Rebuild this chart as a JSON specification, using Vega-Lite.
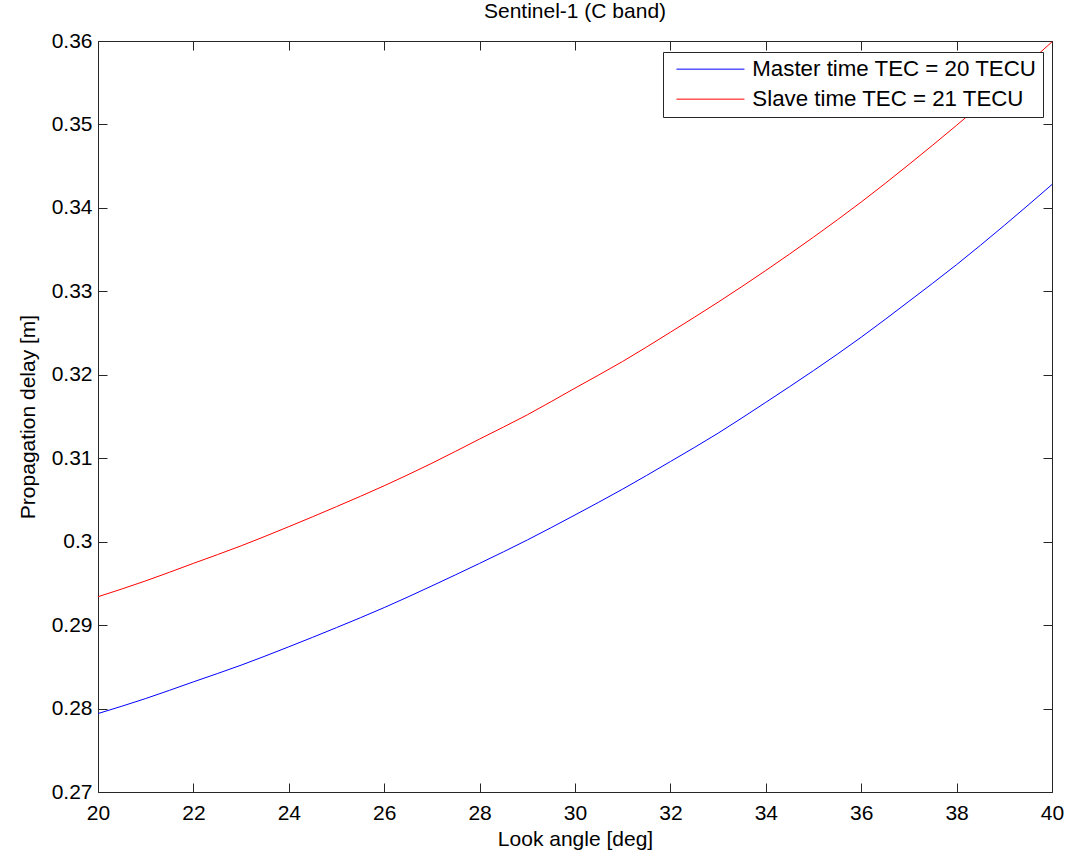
{
  "$schema": "https://vega.github.io/schema/vega-lite/v6.json",
  "width": 954,
  "height": 751,
  "autosize": {"type": "none"},
  "padding": {"left": 98, "top": 41, "right": 37, "bottom": 62},
  "background": "white",
  "title": {"text": "Sentinel-1 (C band)", "fontSize": 21, "font": "Liberation Sans", "fontWeight": "normal", "color": "black", "offset": 8.5, "anchor": "middle", "frame": "group"},
  "config": {"view": {"stroke": null}, "font": "Liberation Sans"},
  "datasets": {
    "curves": [
      {"angle": 20, "delay": 0.2794, "series": "Master time TEC = 20 TECU"},
      {"angle": 21, "delay": 0.2812, "series": "Master time TEC = 20 TECU"},
      {"angle": 22, "delay": 0.2832, "series": "Master time TEC = 20 TECU"},
      {"angle": 23, "delay": 0.2852, "series": "Master time TEC = 20 TECU"},
      {"angle": 24, "delay": 0.2874, "series": "Master time TEC = 20 TECU"},
      {"angle": 25, "delay": 0.2897, "series": "Master time TEC = 20 TECU"},
      {"angle": 26, "delay": 0.2921, "series": "Master time TEC = 20 TECU"},
      {"angle": 27, "delay": 0.2947, "series": "Master time TEC = 20 TECU"},
      {"angle": 28, "delay": 0.2974, "series": "Master time TEC = 20 TECU"},
      {"angle": 29, "delay": 0.3002, "series": "Master time TEC = 20 TECU"},
      {"angle": 30, "delay": 0.3032, "series": "Master time TEC = 20 TECU"},
      {"angle": 31, "delay": 0.3063, "series": "Master time TEC = 20 TECU"},
      {"angle": 32, "delay": 0.3096, "series": "Master time TEC = 20 TECU"},
      {"angle": 33, "delay": 0.3130, "series": "Master time TEC = 20 TECU"},
      {"angle": 34, "delay": 0.3167, "series": "Master time TEC = 20 TECU"},
      {"angle": 35, "delay": 0.3205, "series": "Master time TEC = 20 TECU"},
      {"angle": 36, "delay": 0.3245, "series": "Master time TEC = 20 TECU"},
      {"angle": 37, "delay": 0.3288, "series": "Master time TEC = 20 TECU"},
      {"angle": 38, "delay": 0.3332, "series": "Master time TEC = 20 TECU"},
      {"angle": 39, "delay": 0.3379, "series": "Master time TEC = 20 TECU"},
      {"angle": 40, "delay": 0.3428, "series": "Master time TEC = 20 TECU"},
      {"angle": 20, "delay": 0.2934, "series": "Slave time TEC = 21 TECU"},
      {"angle": 21, "delay": 0.2953, "series": "Slave time TEC = 21 TECU"},
      {"angle": 22, "delay": 0.2974, "series": "Slave time TEC = 21 TECU"},
      {"angle": 23, "delay": 0.2995, "series": "Slave time TEC = 21 TECU"},
      {"angle": 24, "delay": 0.3018, "series": "Slave time TEC = 21 TECU"},
      {"angle": 25, "delay": 0.3042, "series": "Slave time TEC = 21 TECU"},
      {"angle": 26, "delay": 0.3067, "series": "Slave time TEC = 21 TECU"},
      {"angle": 27, "delay": 0.3094, "series": "Slave time TEC = 21 TECU"},
      {"angle": 28, "delay": 0.3123, "series": "Slave time TEC = 21 TECU"},
      {"angle": 29, "delay": 0.3152, "series": "Slave time TEC = 21 TECU"},
      {"angle": 30, "delay": 0.3184, "series": "Slave time TEC = 21 TECU"},
      {"angle": 31, "delay": 0.3216, "series": "Slave time TEC = 21 TECU"},
      {"angle": 32, "delay": 0.3251, "series": "Slave time TEC = 21 TECU"},
      {"angle": 33, "delay": 0.3287, "series": "Slave time TEC = 21 TECU"},
      {"angle": 34, "delay": 0.3325, "series": "Slave time TEC = 21 TECU"},
      {"angle": 35, "delay": 0.3365, "series": "Slave time TEC = 21 TECU"},
      {"angle": 36, "delay": 0.3407, "series": "Slave time TEC = 21 TECU"},
      {"angle": 37, "delay": 0.3452, "series": "Slave time TEC = 21 TECU"},
      {"angle": 38, "delay": 0.3499, "series": "Slave time TEC = 21 TECU"},
      {"angle": 39, "delay": 0.3548, "series": "Slave time TEC = 21 TECU"},
      {"angle": 40, "delay": 0.3599, "series": "Slave time TEC = 21 TECU"}
    ]
  },
  "data": {"name": "curves"},
  "layer": [
    {
      "mark": {"type": "line", "strokeWidth": 1, "clip": true, "interpolate": "monotone"},
      "encoding": {
        "x": {
          "field": "angle", "type": "quantitative",
          "scale": {"domain": [20, 40], "nice": false, "zero": false},
          "axis": {
            "orient": "bottom", "title": "Look angle [deg]", "values": [20, 22, 24, 26, 28, 30, 32, 34, 36, 38, 40],
            "grid": false, "tickSize": -9, "tickColor": "#262626", "domainColor": "#262626", "domainWidth": 1, "tickWidth": 1,
            "labelPadding": 19, "labelFontSize": 21, "labelFont": "Liberation Sans", "labelColor": "black", "labelFlush": false, "labelOverlap": false,
            "titleFontSize": 21, "titleFont": "Liberation Sans", "titleFontWeight": "normal", "titleColor": "black", "titlePadding": 5
          }
        },
        "y": {
          "field": "delay", "type": "quantitative",
          "scale": {"domain": [0.27, 0.36], "nice": false, "zero": false},
          "axis": {
            "orient": "left", "title": "Propagation delay [m]", "values": [0.27, 0.28, 0.29, 0.3, 0.31, 0.32, 0.33, 0.34, 0.35, 0.36],
            "format": ".2~f", "grid": false, "tickSize": -9, "tickColor": "#262626", "domainColor": "#262626", "domainWidth": 1, "tickWidth": 1,
            "labelPadding": 15, "labelFontSize": 21, "labelFont": "Liberation Sans", "labelColor": "black", "labelFlush": false, "labelOverlap": false,
            "titleFontSize": 21, "titleFont": "Liberation Sans", "titleFontWeight": "normal", "titleColor": "black", "titlePadding": 13
          }
        },
        "color": {
          "field": "series", "type": "nominal",
          "scale": {"domain": ["Master time TEC = 20 TECU", "Slave time TEC = 21 TECU"], "range": ["#0000ff", "#ff0000"]},
          "legend": {
            "title": null, "orient": "none", "legendX": 565, "legendY": 11,
            "symbolType": "M-0.74,0H12.86", "symbolSize": 100, "symbolStrokeWidth": 1,
            "labelFontSize": 22.3, "labelFont": "Liberation Sans", "labelColor": "black", "labelOffset": 61, "labelLimit": 400,
            "strokeColor": "#262626", "fillColor": "white", "padding": 6, "rowPadding": 7
          }
        }
      }
    },
    {
      "mark": {"type": "line", "opacity": 0},
      "encoding": {
        "x": {
          "field": "angle", "type": "quantitative",
          "axis": {
            "orient": "top", "title": null, "labels": false, "values": [20, 22, 24, 26, 28, 30, 32, 34, 36, 38, 40],
            "grid": false, "tickSize": -9, "tickColor": "#262626", "domainColor": "#262626", "domainWidth": 1, "tickWidth": 1
          }
        },
        "y": {
          "field": "delay", "type": "quantitative",
          "axis": {
            "orient": "right", "title": null, "labels": false, "values": [0.27, 0.28, 0.29, 0.3, 0.31, 0.32, 0.33, 0.34, 0.35, 0.36],
            "grid": false, "tickSize": -9, "tickColor": "#262626", "domainColor": "#262626", "domainWidth": 1, "tickWidth": 1
          }
        },
        "detail": {"field": "series", "type": "nominal"}
      }
    }
  ],
  "resolve": {"axis": {"x": "independent", "y": "independent"}}
}
